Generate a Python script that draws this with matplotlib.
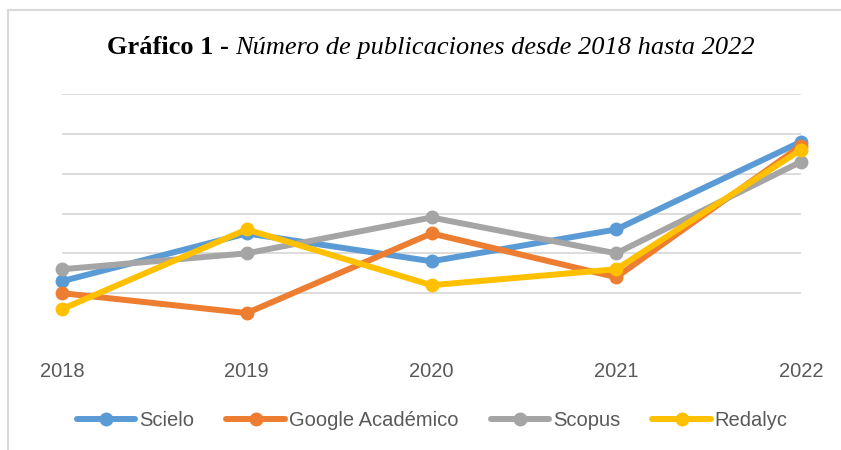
import matplotlib
matplotlib.use("Agg")
import matplotlib.pyplot as plt
from matplotlib.patches import Rectangle

years = [2018, 2019, 2020, 2021, 2022]
series_names = ["Scielo", "Google Académico", "Scopus", "Redalyc"]
scielo = [13, 25, 18, 26, 48]
google = [10, 5, 25, 14, 47]
scopus = [16, 20, 29, 20, 43]
redalyc = [6, 26, 12, 16, 46]
colors = ["#5B9BD5", "#ED7D31", "#A5A5A5", "#FFC000"]
grid_ticks = [10, 20, 30, 40, 50, 60]

fig = plt.figure(figsize=(8.41, 4.5), dpi=100)

# chart area border (cut off at right and bottom, like the screenshot)
fig.patches.append(Rectangle((8 / 841, -0.1), 1.0, 1.1 - 10 / 450,
                             transform=fig.transFigure, fill=False,
                             edgecolor="#d9d9d9", linewidth=1.5))

ax = fig.add_axes([62 / 841, 1 - 333 / 450, (801 - 62) / 841, (333 - 94) / 450])

for name, vals, c in zip(series_names, [scielo, google, scopus, redalyc], colors):
    ax.plot(years, vals, color=c, linewidth=4.3, marker="o", markersize=9,
            label=name, clip_on=False, solid_capstyle="round", zorder=3)

ax.set_xlim(2018, 2022)
ax.set_ylim(0, 60)
ax.set_yticks(grid_ticks)
ax.yaxis.grid(True, color="#d9d9d9", linewidth=1.3)
ax.set_axisbelow(True)
ax.tick_params(axis="y", length=0, labelleft=False)
ax.set_xticks(years)
ax.set_xticklabels([str(y) for y in years], fontsize=14.5, color="#595959",
                   fontfamily="Liberation Sans")
ax.tick_params(axis="x", length=0, pad=21)
for s in ax.spines.values():
    s.set_visible(False)

# title: bold part + italic part, centred together
ty = 1 - 48 / 450
t1 = fig.text(0, ty, "Gráfico 1 - ", fontsize=19, fontweight="bold",
              ha="left", va="center", family="Liberation Serif")
t2 = fig.text(0, ty, "Número de publicaciones desde 2018 hasta 2022",
              fontsize=19, fontstyle="italic", ha="left", va="center",
              family="Liberation Serif")
r = fig.canvas.get_renderer()
w1 = t1.get_window_extent(r).width / fig.bbox.width
w2 = t2.get_window_extent(r).width / fig.bbox.width
x0 = 431 / 841 - (w1 + w2) / 2
t1.set_x(x0)
t2.set_x(x0 + w1)

leg = fig.legend(loc="center", bbox_to_anchor=(0.514, 1 - 421 / 450), ncol=4,
                 frameon=False, handlelength=2.9, handletextpad=0.2,
                 columnspacing=1.6, prop={"family": "Liberation Sans", "size": 14.5})
for t in leg.get_texts():
    t.set_color("#595959")

fig.savefig("out.png", dpi=100)
